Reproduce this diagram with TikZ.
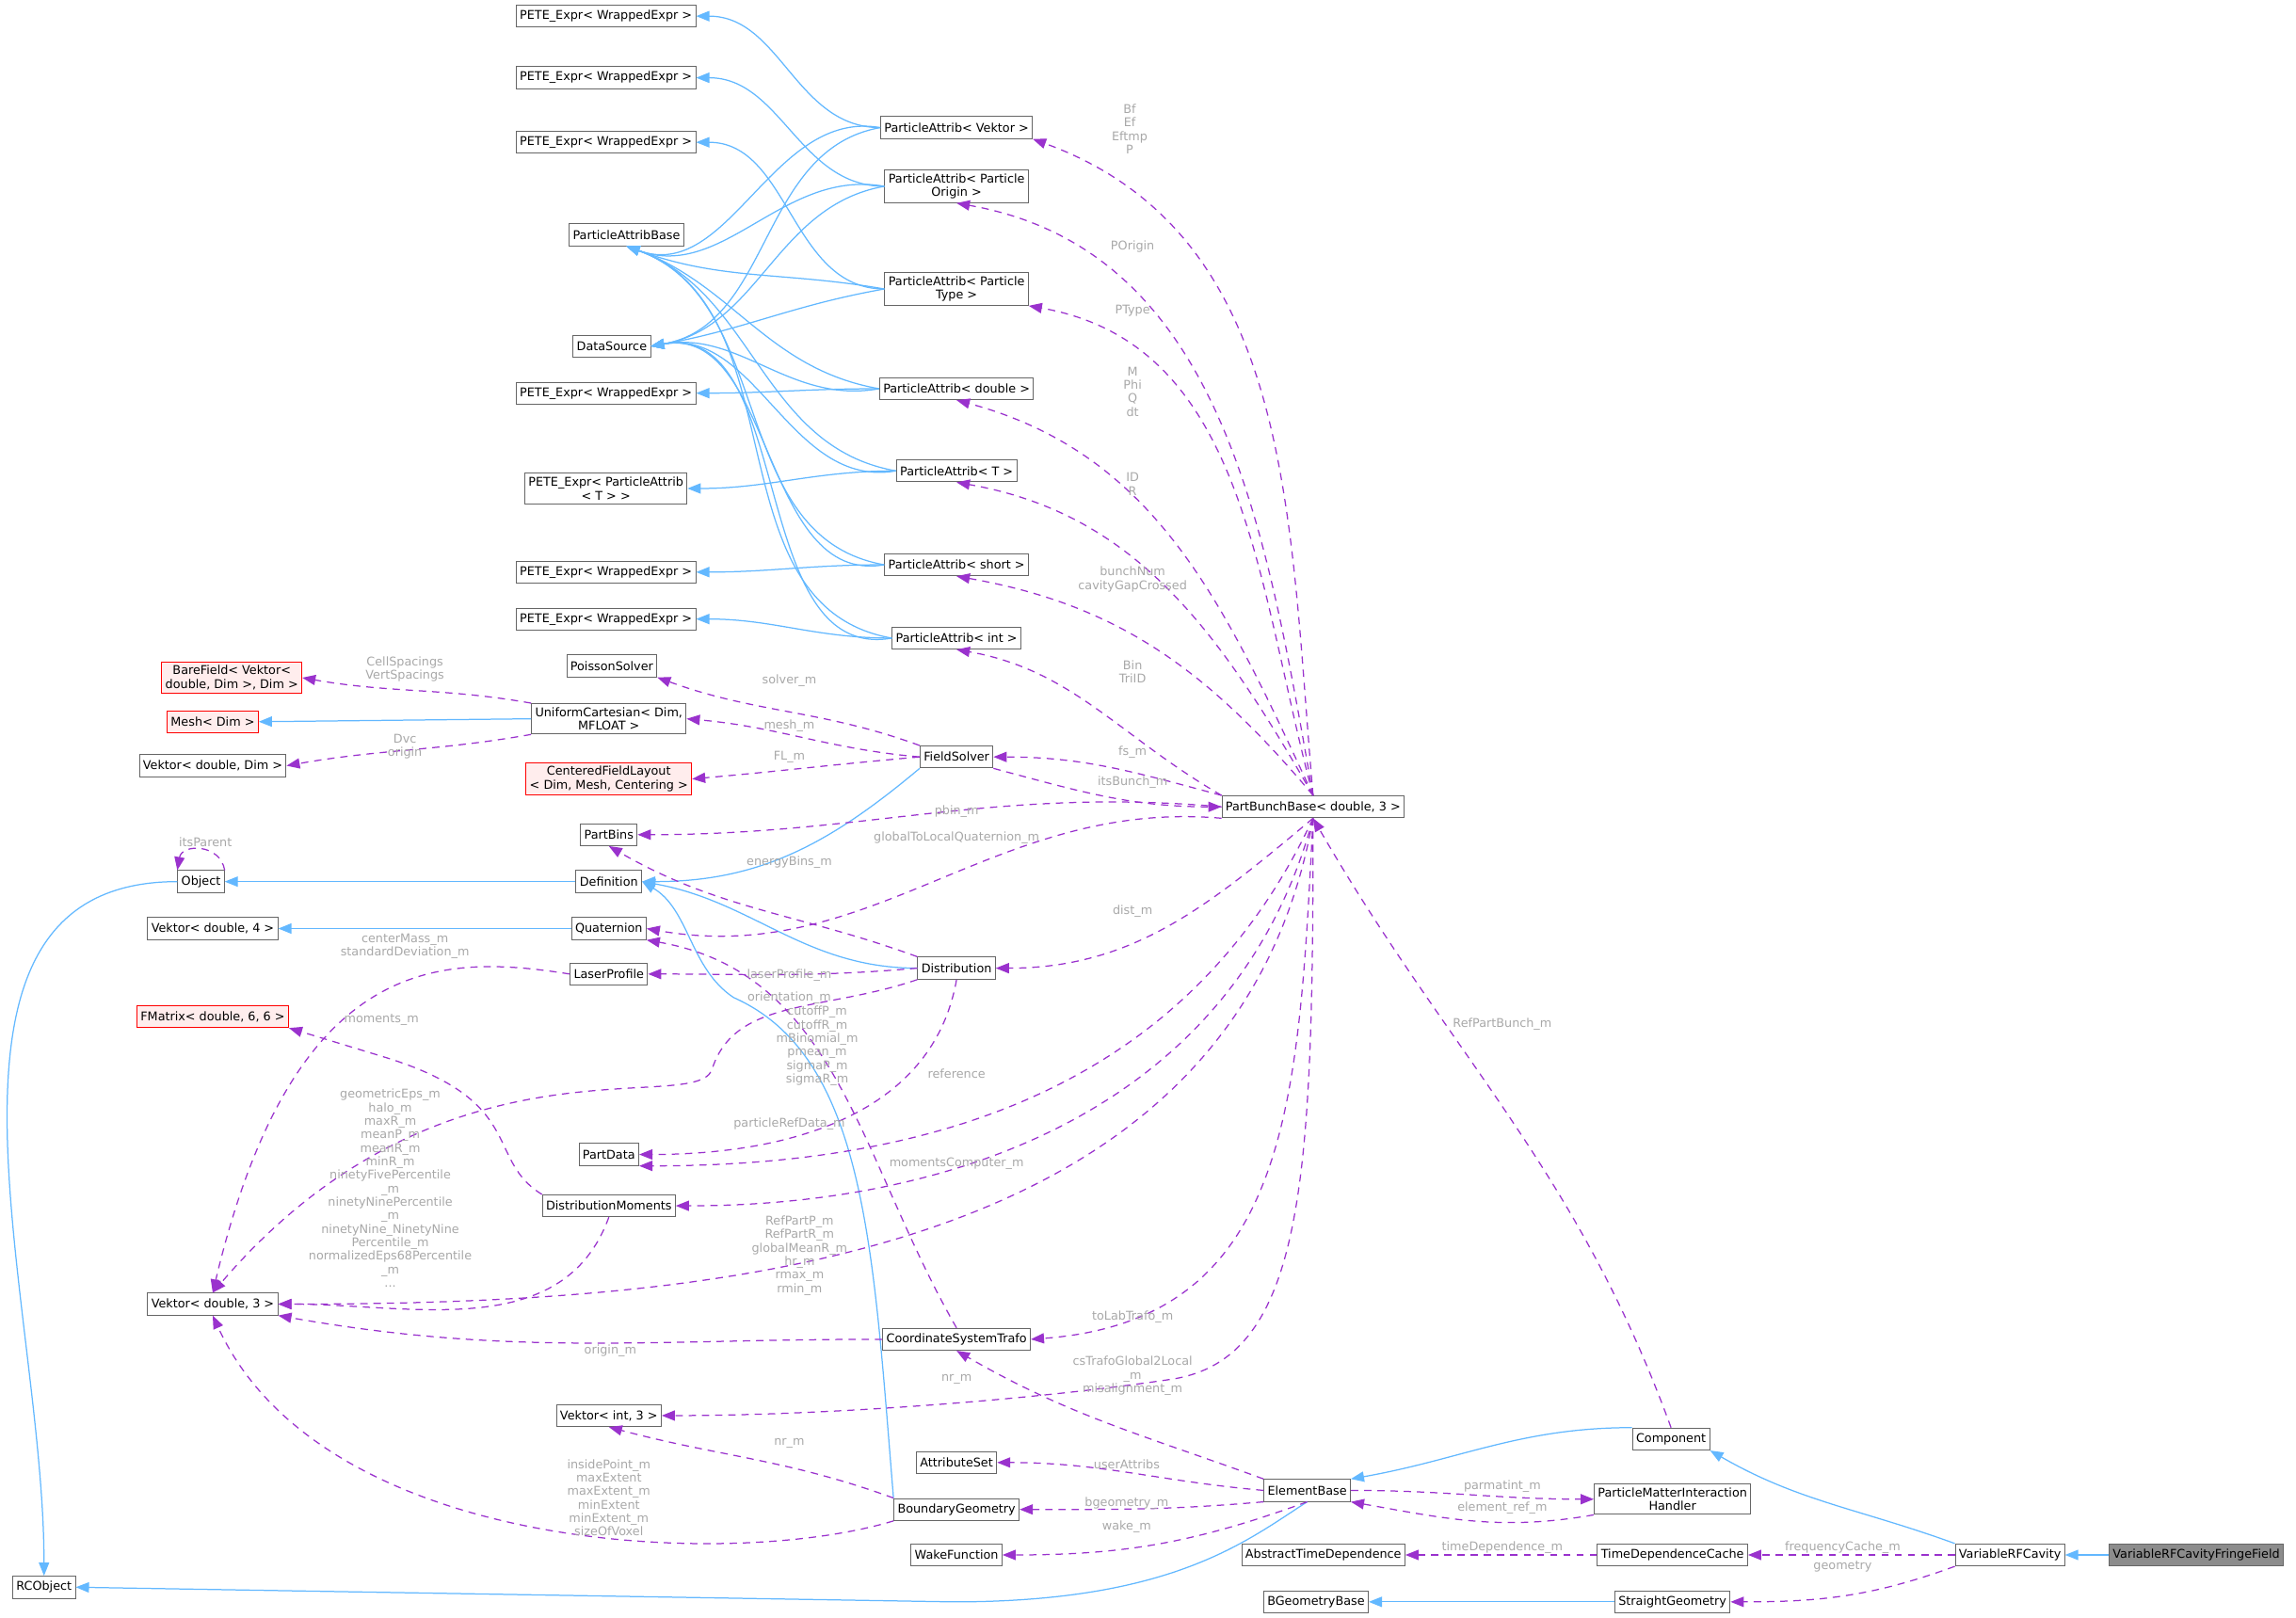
\documentclass[tikz,border=0pt]{standalone}
\usepackage{fontspec}
\setmainfont{DejaVu Sans}
\usetikzlibrary{arrows.meta}
\definecolor{inhblue}{HTML}{63B8FF}
\definecolor{usepurple}{HTML}{9A32CD}
\definecolor{lblgray}{HTML}{A8A8A8}
\begin{document}
\begin{tikzpicture}[x=1pt,y=-1pt,font=\fontsize{8.2}{9.4}\selectfont]
\tikzset{cls/.style={rectangle,draw=black!60,fill=white,semithick,inner sep=2.5pt,minimum height=15pt,align=center},
  redcls/.style={cls,draw=red,fill=red!7},
  inh/.style={draw=inhblue,thick,-{Triangle[length=9pt,width=7pt]}},
  use/.style={draw=usepurple,thick,dashed,dash pattern=on 5pt off 4pt,-{Triangle[length=9pt,width=7pt]}},
  lbl/.style={text=lblgray,align=center,inner sep=0pt,font=\fontsize{8.2}{9.2}\selectfont}}
\useasboundingbox (0,0) rectangle (1565,1103);
% left column
\node[cls] (pete1) at (413,11) {PETE\_Expr< WrappedExpr >};
\node[cls] (pete2) at (413,53) {PETE\_Expr< WrappedExpr >};
\node[cls] (pete3) at (413,97) {PETE\_Expr< WrappedExpr >};
\node[cls] (pab) at (427,160) {ParticleAttribBase};
\node[cls] (ds) at (417,236) {DataSource};
\node[cls] (pete4) at (413,268) {PETE\_Expr< WrappedExpr >};
\node[cls] (pete5) at (413,333) {PETE\_Expr< ParticleAttrib\\< T > >};
\node[cls] (pete6) at (413,390) {PETE\_Expr< WrappedExpr >};
\node[cls] (pete7) at (413,422) {PETE\_Expr< WrappedExpr >};
\node[cls] (poisson) at (417,454) {PoissonSolver};
\node[redcls] (bare) at (158,462) {BareField< Vektor<\\ double, Dim >, Dim >};
\node[redcls] (mesh) at (145,492) {Mesh< Dim >};
\node[cls] (vdim) at (145,522) {Vektor< double, Dim >};
\node[cls] (ucart) at (415,490) {UniformCartesian< Dim,\\ MFLOAT >};
\node[redcls] (cfl) at (415,531) {CenteredFieldLayout\\< Dim, Mesh, Centering >};
\node[cls] (pbins) at (415,569) {PartBins};
\node[cls] (object) at (137,601) {Object};
\node[cls] (defn) at (415,601) {Definition};
\node[cls] (v4) at (145,633) {Vektor< double, 4 >};
\node[cls] (quat) at (415,633) {Quaternion};
\node[cls] (laser) at (415,664) {LaserProfile};
\node[redcls] (fmat) at (145,693) {FMatrix< double, 6, 6 >};
\node[cls] (pdata) at (415,787) {PartData};
\node[cls] (dmom) at (415,822) {DistributionMoments};
\node[cls] (v3) at (145,889) {Vektor< double, 3 >};
\node[cls] (vi3) at (415,965) {Vektor< int, 3 >};
\node[cls] (rcobj) at (30,1082) {RCObject};
% middle column
\node[cls] (pavek) at (652,87) {ParticleAttrib< Vektor >};
\node[cls] (paorig) at (652,127) {ParticleAttrib< Particle\\ Origin >};
\node[cls] (patype) at (652,197) {ParticleAttrib< Particle\\ Type >};
\node[cls] (padbl) at (652,265) {ParticleAttrib< double >};
\node[cls] (pat) at (652,321) {ParticleAttrib< T >};
\node[cls] (pashort) at (652,385) {ParticleAttrib< short >};
\node[cls] (paint) at (652,435) {ParticleAttrib< int >};
\node[cls] (fsolver) at (652,516) {FieldSolver};
\node[cls] (distr) at (652,660) {Distribution};
\node[cls] (cst) at (652,913) {CoordinateSystemTrafo};
\node[cls] (attrs) at (652,997) {AttributeSet};
\node[cls] (bgeom) at (652,1029) {BoundaryGeometry};
\node[cls] (wake) at (652,1060) {WakeFunction};
% right part
\node[cls] (pbb) at (895,550) {PartBunchBase< double, 3 >};
\node[cls] (elem) at (891,1016) {ElementBase};
\node[cls] (atd) at (902,1060) {AbstractTimeDependence};
\node[cls] (bgb) at (897,1092) {BGeometryBase};
\node[cls] (comp) at (1139,981) {Component};
\node[cls] (pmih) at (1140,1022) {ParticleMatterInteraction\\ Handler};
\node[cls] (tdc) at (1140,1060) {TimeDependenceCache};
\node[cls] (sgeom) at (1140,1092) {StraightGeometry};
\node[cls] (vrf) at (1370,1060) {VariableRFCavity};
\node[cls,fill=black!45] (vrff) at (1497,1060) {VariableRFCavityFringeField};

% inheritance
\foreach \p/\e in {pavek/pete1,paorig/pete2,patype/pete3,padbl/pete4,pat/pete5,pashort/pete6,paint/pete7}
  \draw[inh] (\p.west) to[out=180,in=0] (\e.east);
\foreach \p in {pavek,paorig,patype,padbl,pat,pashort,paint}{
  \draw[inh] (\p.west) to[out=170,in=-20] (pab.south);
  \draw[inh] (\p.west) to[out=190,in=10] (ds.east);}
\draw[inh] (ucart.west) -- (mesh.east);
\draw[inh] (object.west) to[out=180,in=90] (rcobj.north);
\draw[inh] (defn.west) -- (object.east);
\draw[inh] (quat.west) -- (v4.east);
\draw[inh] (fsolver.south west) to[out=220,in=0] (defn.east);
\draw[inh] (distr.west) to[out=180,in=-10] (defn.east);
\draw[inh] (bgeom.north west) .. controls (595,850) and (590,720) .. (500,680) .. controls (470,660) and (470,620) .. (defn.east);
\draw[inh] (elem.south) .. controls (850,1050) and (800,1092) .. (650,1092) -- (rcobj.east);
\draw[inh] (comp.north west) to[out=180,in=10] (elem.north east);
\draw[inh] (vrf.north west) to[out=160,in=-30] (comp.south east);
\draw[inh] (vrff.west) -- (vrf.east);
\draw[inh] (sgeom.west) -- (bgb.east);

% usage from PartBunchBase
\draw[use] (pbb.north) to[out=95,in=-20] (pavek.south east);
\draw[use] (pbb.north) to[out=100,in=-10] (paorig.south);
\draw[use] (pbb.north) to[out=105,in=-10] (patype.south east);
\draw[use] (pbb.north) to[out=115,in=-15] (padbl.south);
\draw[use] (pbb.north) to[out=120,in=-10] (pat.south);
\draw[use] (pbb.north) to[out=130,in=-10] (pashort.south);
\draw[use] (pbb.north west) to[out=150,in=-10] (paint.south);
\draw[use] (pbb.north west) to[out=165,in=0] (fsolver.east);
\draw[use] (fsolver.south east) to[out=-15,in=180] (pbb.west);
\draw[use] (pbb.west) to[out=175,in=0] (pbins.east);
\draw[use] (pbb.south west) to[out=175,in=-10] (quat.east);
\draw[use] (pbb.south) to[out=-140,in=0] (distr.east);
\draw[use] (pbb.south) to[out=-115,in=0] (pdata.south east);
\draw[use] (pbb.south) to[out=-105,in=0] (dmom.east);
\draw[use] (pbb.south) to[out=-100,in=0] (v3.east);
\draw[use] (pbb.south) .. controls (885,750) and (880,900) .. (cst.east);
\draw[use] (pbb.south) .. controls (895,800) and (890,925) .. (800,940) .. controls (700,955) and (560,965) .. (vi3.east);
\draw[use] (comp.north) to[out=110,in=-60] (pbb.south);
% other usages
\draw[use] (fsolver.north west) to[out=160,in=-20] (poisson.south east);
\draw[use] (fsolver.west) to[out=175,in=-5] (ucart.east);
\draw[use] (fsolver.west) to[out=185,in=5] (cfl.east);
\draw[use] (ucart.north west) to[out=170,in=-10] (bare.east);
\draw[use] (ucart.south west) to[out=190,in=10] (vdim.east);
\draw[use] (object.north east) .. controls (150,575) and (124,575) .. (object.north west);
\draw[use] (distr.north west) to[out=160,in=-30] (pbins.south);
\draw[use] (distr.west) to[out=185,in=0] (laser.east);
\draw[use] (distr.south) to[out=-100,in=0] (pdata.east);
\draw[use] (distr.south west) .. controls (560,690) and (500,680) .. (485,730) .. controls (470,760) and (300,700) .. (v3.north);
\draw[use] (laser.west) .. controls (300,650) and (200,650) .. (v3.north);
\draw[use] (dmom.north west) .. controls (330,790) and (360,750) .. (260,720) -- (fmat.south east);
\draw[use] (dmom.south) to[out=-110,in=0] (v3.east);
\draw[use] (cst.west) to[out=180,in=-10] (v3.south east);
\draw[use] (cst.north) to[out=120,in=-10] (quat.south east);
\draw[use] (bgeom.north west) to[out=160,in=-15] (vi3.south);
\draw[use] (bgeom.south west) .. controls (500,1070) and (220,1060) .. (v3.south);
\draw[use] (elem.north west) to[out=160,in=-30] (cst.south);
\draw[use] (elem.west) to[out=175,in=0] (attrs.east);
\draw[use] (elem.south west) to[out=185,in=0] (bgeom.east);
\draw[use] (elem.south) to[out=200,in=0] (wake.east);
\draw[use] (elem.east) to[out=0,in=180] (pmih.west);
\draw[use] (pmih.south west) to[out=190,in=-10] (elem.south east);
\draw[use] (tdc.west) -- (atd.east);
\draw[use] (vrf.west) -- (tdc.east);
\draw[use] (vrf.south west) to[out=200,in=0] (sgeom.east);

% labels
\node[lbl] (l1) at (770,88) {Bf\\Ef\\Eftmp\\P};
\node[lbl] (l2) at (772,168) {POrigin};
\node[lbl] (l3) at (772,212) {PType};
\node[lbl] (l4) at (772,267) {M\\Phi\\Q\\dt};
\node[lbl] (l5) at (772,330) {ID\\R};
\node[lbl] (l6) at (772,395) {bunchNum\\cavityGapCrossed};
\node[lbl] (l7) at (772,458) {Bin\\TriID};
\node[lbl] (l8) at (772,513) {fs\_m};
\node[lbl] (l9) at (772,533) {itsBunch\_m};
\node[lbl] (l10) at (652,553) {pbin\_m};
\node[lbl] (l11) at (652,571) {globalToLocalQuaternion\_m};
\node[lbl] (l12) at (772,621) {dist\_m};
\node[lbl] (l13) at (652,732) {reference};
\node[lbl] (l14) at (652,793) {momentsComputer\_m};
\node[lbl] (l15) at (545,856) {RefPartP\_m\\RefPartR\_m\\globalMeanR\_m\\hr\_m\\rmax\_m\\rmin\_m};
\node[lbl] (l16) at (772,898) {toLabTrafo\_m};
\node[lbl] (l17) at (772,938) {csTrafoGlobal2Local\\\_m\\misalignment\_m};
\node[lbl] (l18) at (652,940) {nr\_m};
\node[lbl] (l19) at (1024,698) {RefPartBunch\_m};
\node[lbl] (l20) at (538,464) {solver\_m};
\node[lbl] (l21) at (538,495) {mesh\_m};
\node[lbl] (l22) at (538,516) {FL\_m};
\node[lbl] (l23) at (276,456) {CellSpacings\\VertSpacings};
\node[lbl] (l24) at (276,509) {Dvc\\origin};
\node[lbl] (l25) at (140,574) {itsParent};
\node[lbl] (l26) at (538,588) {energyBins\_m};
\node[lbl] (l27) at (538,665) {laserProfile\_m};
\node[lbl] (l28) at (538,680) {orientation\_m};
\node[lbl] (l29) at (538,766) {particleRefData\_m};
\node[lbl] (l30) at (557,713) {cutoffP\_m\\cutoffR\_m\\mBinomial\_m\\pmean\_m\\sigmaP\_m\\sigmaR\_m};
\node[lbl] (l31) at (276,645) {centerMass\_m\\standardDeviation\_m};
\node[lbl] (l32) at (260,695) {moments\_m};
\node[lbl] (l33) at (266,810) {geometricEps\_m\\halo\_m\\maxR\_m\\meanP\_m\\meanR\_m\\minR\_m\\ninetyFivePercentile\\\_m\\ninetyNinePercentile\\\_m\\ninetyNine\_NinetyNine\\Percentile\_m\\normalizedEps68Percentile\\\_m\\...};
\node[lbl] (l34) at (416,921) {origin\_m};
\node[lbl] (l35) at (538,984) {nr\_m};
\node[lbl] (l36) at (415,1021) {insidePoint\_m\\maxExtent\\maxExtent\_m\\minExtent\\minExtent\_m\\sizeOfVoxel};
\node[lbl] (l37) at (768,998) {userAttribs};
\node[lbl] (l38) at (768,1025) {bgeometry\_m};
\node[lbl] (l39) at (768,1041) {wake\_m};
\node[lbl] (l40) at (1024,1013) {parmatint\_m};
\node[lbl] (l41) at (1024,1028) {element\_ref\_m};
\node[lbl] (l42) at (1024,1055) {timeDependence\_m};
\node[lbl] (l43) at (1256,1055) {frequencyCache\_m};
\node[lbl] (l44) at (1256,1068) {geometry};
\end{tikzpicture}
\end{document}
